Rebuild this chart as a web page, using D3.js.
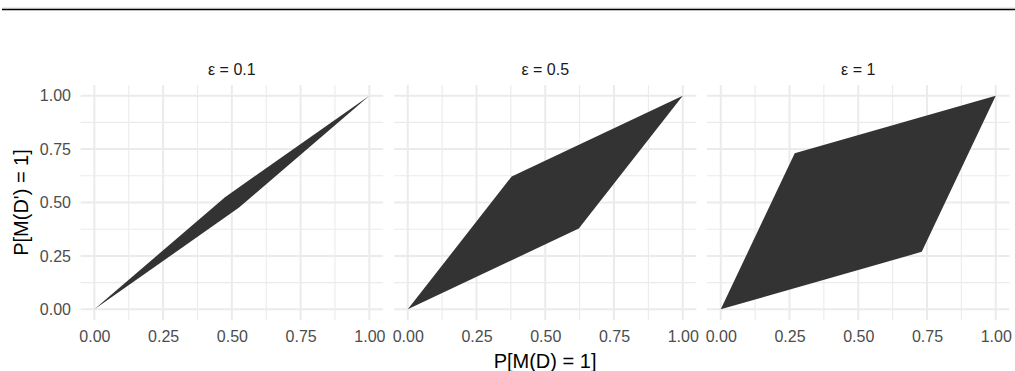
<!DOCTYPE html>
<html>
<head>
<meta charset="utf-8">
<script src="https://cdn.jsdelivr.net/npm/d3@7"></script>
<style>
  html, body { margin: 0; padding: 0; background: #fff; }
  svg { display: block; font-family: "Liberation Sans", Arial, sans-serif; }
</style>
</head>
<body>
<svg id="chart" width="1015" height="371"></svg>
<script>
// Facet values (privacy budget epsilon)
const epsilons = [0.1, 0.5, 1];
const facetLabels = ["ε = 0.1", "ε = 0.5", "ε = 1"];
// Region vertices for each facet: x = P[M(D) = 1], y = P[M(D') = 1]
const regionX = [
  [0, 0.475, 1, 0.525],
  [0, 0.378, 1, 0.622],
  [0, 0.269, 1, 0.731]
];
const regionY = [
  [0, 0.525, 1, 0.475],
  [0, 0.622, 1, 0.378],
  [0, 0.731, 1, 0.269]
];
const majorTicks = [0, 0.25, 0.5, 0.75, 1];
const minorTicks = [0.125, 0.375, 0.625, 0.875];
const tickLabels = ["0.00", "0.25", "0.50", "0.75", "1.00"];

const svg = d3.select("#chart");

// Rule across the top of the page
svg.append("line").attr("x1", 2).attr("x2", 1015).attr("y1", 8).attr("y2", 8)
  .attr("stroke", "#d9d9d9").attr("stroke-width", 1);
svg.append("line").attr("x1", 2).attr("x2", 1015).attr("y1", 9.5).attr("y2", 9.5)
  .attr("stroke", "#000").attr("stroke-width", 1.3);

const panelLeft = [80.6, 394, 707];
const panelW = 302.5;
const panelTop = 85, panelBottom = 320;

const y = d3.scaleLinear().domain([-0.05, 1.05]).range([panelBottom, panelTop]);

epsilons.forEach((eps, i) => {
  const x = d3.scaleLinear().domain([-0.05, 1.05]).range([panelLeft[i], panelLeft[i] + panelW]);
  const g = svg.append("g");

  // minor grid
  g.selectAll(".vmin").data(minorTicks).join("line")
    .attr("x1", d => x(d)).attr("x2", d => x(d))
    .attr("y1", panelTop).attr("y2", panelBottom)
    .attr("stroke", "#ebebeb").attr("stroke-width", 1.1);
  g.selectAll(".hmin").data(minorTicks).join("line")
    .attr("y1", d => y(d)).attr("y2", d => y(d))
    .attr("x1", panelLeft[i]).attr("x2", panelLeft[i] + panelW)
    .attr("stroke", "#ebebeb").attr("stroke-width", 1.1);
  // major grid
  g.selectAll(".vmaj").data(majorTicks).join("line")
    .attr("x1", d => x(d)).attr("x2", d => x(d))
    .attr("y1", panelTop).attr("y2", panelBottom)
    .attr("stroke", "#ebebeb").attr("stroke-width", 2);
  g.selectAll(".hmaj").data(majorTicks).join("line")
    .attr("y1", d => y(d)).attr("y2", d => y(d))
    .attr("x1", panelLeft[i]).attr("x2", panelLeft[i] + panelW)
    .attr("stroke", "#ebebeb").attr("stroke-width", 2);

  // region polygon
  const pts = regionX[i].map((vx, k) => [x(vx), y(regionY[i][k])]);
  g.append("path")
    .attr("d", d3.line()(pts) + "Z")
    .attr("fill", "#333333");

  // strip label
  g.append("text")
    .attr("x", panelLeft[i] + panelW / 2).attr("y", 74.5)
    .attr("text-anchor", "middle").attr("font-size", 16).attr("fill", "#1a1a1a")
    .text(facetLabels[i]);

  // x axis tick labels
  const xAxis = d3.axisBottom(x).tickValues(majorTicks)
    .tickFormat((d, k) => tickLabels[k]).tickSize(0).tickPadding(0);
  const ax = g.append("g").attr("transform", `translate(0,${331})`).call(xAxis);
  ax.select(".domain").remove();
  ax.selectAll("text").attr("font-size", 16).attr("fill", "#4d4d4d")
    .attr("font-family", "Liberation Sans, Arial, sans-serif").attr("dy", "0.71em").attr("y", 0);
});

// y axis tick labels (first panel only)
const yAxis = d3.axisLeft(y).tickValues(majorTicks)
  .tickFormat((d, k) => tickLabels[k]).tickSize(0).tickPadding(0);
const ay = svg.append("g").attr("transform", `translate(${71},0)`).call(yAxis);
ay.select(".domain").remove();
ay.selectAll("text").attr("font-size", 16).attr("fill", "#4d4d4d")
  .attr("font-family", "Liberation Sans, Arial, sans-serif");

// axis titles
svg.append("text")
  .attr("x", (panelLeft[0] + panelLeft[2] + panelW) / 2).attr("y", 368)
  .attr("text-anchor", "middle").attr("font-size", 20).attr("fill", "#000")
  .text("P[M(D) = 1]");
svg.append("text")
  .attr("transform", `translate(28,${(panelTop + panelBottom) / 2}) rotate(-90)`)
  .attr("text-anchor", "middle").attr("font-size", 20).attr("fill", "#000")
  .text("P[M(D') = 1]");
</script>
</body>
</html>
